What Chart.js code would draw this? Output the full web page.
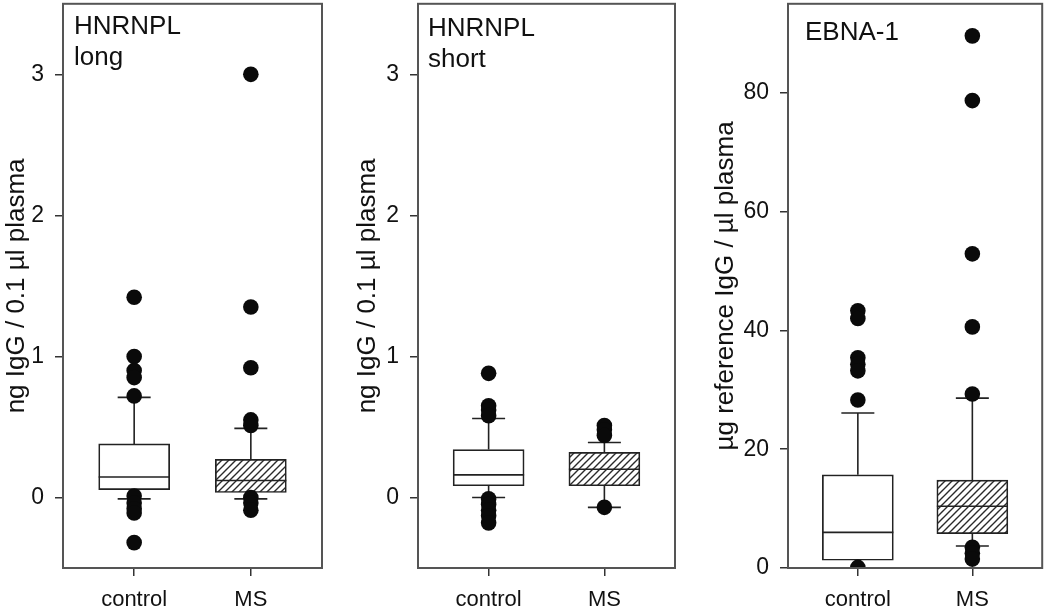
<!DOCTYPE html>
<html>
<head>
<meta charset="utf-8">
<script src="https://cdn.jsdelivr.net/npm/chart.js@4.4.0/dist/chart.umd.min.js"></script>
<style>
  html, body { margin: 0; padding: 0; background: #fff; }
  body { width: 1050px; height: 608px; position: relative; overflow: hidden; }
  .panel { position: absolute; top: -4px; height: 612px; }
</style>
</head>
<body>
<div class="panel" style="left:0;width:340px"><canvas id="chartLong"></canvas></div>
<div class="panel" style="left:345px;width:345px"><canvas id="chartShort"></canvas></div>
<div class="panel" style="left:695px;width:355px"><canvas id="chartEbna"></canvas></div>
<script>
const groups = ['control', 'MS'];
const groupPos = [1, 2];

// HNRNPL long
const longQ1 = [0.055, 0.035];
const longMedian = [0.145, 0.12];
const longQ3 = [0.38, 0.27];
const longLow = [-0.01, -0.01];
const longHigh = [0.71, 0.49];
const longOutControl = [1.42, 1.0, 0.9, 0.85, 0.72, 0.01, -0.04, -0.08, -0.11, -0.32];
const longOutMS = [3.0, 1.35, 0.92, 0.55, 0.51, 0.0, -0.04, -0.09];

// HNRNPL short
const shortQ1 = [0.083, 0.083];
const shortMedian = [0.16, 0.2];
const shortQ3 = [0.34, 0.32];
const shortLow = [0.0, -0.07];
const shortHigh = [0.56, 0.39];
const shortOutControl = [0.88, 0.65, 0.62, 0.58, -0.01, -0.05, -0.09, -0.13, -0.18];
const shortOutMS = [0.51, 0.48, 0.44, -0.07];

// EBNA-1
const ebnaQ1 = [1.3, 5.8];
const ebnaMedian = [6.0, 10.4];
const ebnaQ3 = [15.7, 14.8];
const ebnaLow = [0, 3.7];
const ebnaHigh = [26.1, 28.6];
const ebnaOutControl = [43.3, 42.0, 35.4, 34.3, 33.2, 28.3, 0.1];
const ebnaOutMS = [89.6, 78.7, 52.9, 40.6, 29.3, 3.5, 2.5, 1.5];

const ticksIgG = [0, 1, 2, 3];
const ticksEbna = [0, 20, 40, 60, 80];

const FONT = '"Liberation Sans", Arial, sans-serif';
const BOX_W = 71;
const CAP_W = 33;

function makeHatch() {
    const size = 7;
    const c = document.createElement('canvas');
    c.width = size; c.height = size;
    const g = c.getContext('2d');
    g.fillStyle = '#fff';
    g.fillRect(0, 0, size, size);
    g.strokeStyle = '#2a2a2a';
    g.lineWidth = 1.4;
    g.beginPath();
    g.moveTo(-1, size + 1); g.lineTo(size + 1, -1);
    g.moveTo(-1, 1); g.lineTo(1, -1);
    g.moveTo(size - 1, size + 1); g.lineTo(size + 1, size - 1);
    g.stroke();
    return g.createPattern(c, 'repeat');
}
const hatch = makeHatch();

// whiskers, caps, medians, frame and the panel label
function boxPartsPlugin(stats, label, labelX, labelY) {
    return {
        id: 'boxParts',
        afterDatasetDraw(chart, args) {
            if (args.index !== 0) return;
            const xs = chart.scales.x, ys = chart.scales.y, ctx = chart.ctx;
            ctx.save();
            ctx.strokeStyle = '#222';
            ctx.lineWidth = 1.6;
            ctx.beginPath();
            groupPos.forEach((p, i) => {
                const cx = xs.getPixelForValue(p);
                const yHigh = ys.getPixelForValue(stats.high[i]);
                const yLow = ys.getPixelForValue(stats.low[i]);
                const yQ3 = ys.getPixelForValue(stats.q3[i]);
                const yQ1 = ys.getPixelForValue(stats.q1[i]);
                const yMed = ys.getPixelForValue(stats.median[i]);
                ctx.moveTo(cx, yQ3); ctx.lineTo(cx, yHigh);
                ctx.moveTo(cx - CAP_W / 2, yHigh); ctx.lineTo(cx + CAP_W / 2, yHigh);
                ctx.moveTo(cx, yQ1); ctx.lineTo(cx, yLow);
                ctx.moveTo(cx - CAP_W / 2, yLow); ctx.lineTo(cx + CAP_W / 2, yLow);
                ctx.moveTo(cx - BOX_W / 2, yMed); ctx.lineTo(cx + BOX_W / 2, yMed);
            });
            ctx.stroke();
            ctx.restore();
        },
        afterDraw(chart) {
            const a = chart.chartArea, ctx = chart.ctx;
            ctx.save();
            ctx.strokeStyle = '#555';
            ctx.lineWidth = 2;
            ctx.strokeRect(a.left, a.top, a.right - a.left, a.bottom - a.top);
            ctx.fillStyle = '#111';
            ctx.font = '26px ' + FONT;
            ctx.textBaseline = 'alphabetic';
            label.forEach((line, i) => ctx.fillText(line, a.left + labelX, labelY + i * 31));
            ctx.restore();
        }
    };
}

function makeChart(id, cfg) {
    const points = [];
    cfg.outControl.forEach(v => points.push({ x: 1, y: v }));
    cfg.outMS.forEach(v => points.push({ x: 2, y: v }));

    new Chart(document.getElementById(id), {
        type: 'bar',
        data: {
            datasets: [
                {
                    type: 'bar',
                    data: groupPos.map((p, i) => ({ x: p, y: [cfg.stats.q1[i], cfg.stats.q3[i]] })),
                    backgroundColor: ['#fff', hatch],
                    borderColor: '#222',
                    borderWidth: 1.7,
                    borderSkipped: false,
                    barThickness: BOX_W,
                    order: 1
                },
                {
                    type: 'line',
                    data: points,
                    showLine: false,
                    pointRadius: 7.8,
                    pointBackgroundColor: '#0a0a0a',
                    pointBorderWidth: 0,
                    order: 0
                }
            ]
        },
        options: {
            responsive: true,
            maintainAspectRatio: false,
            animation: false,
            events: [],
            layout: { padding: { top: 0, right: cfg.padRight, left: 0, bottom: 0 } },
            plugins: { legend: { display: false }, tooltip: { enabled: false } },
            scales: {
                x: {
                    type: 'linear',
                    offset: false,
                    min: 0.39,
                    max: 2.61,
                    afterBuildTicks: s => { s.ticks = groupPos.map(v => ({ value: v })); },
                    afterFit: s => { s.height = 40; s.paddingLeft = 0; s.paddingRight = 0; },
                    border: { display: false },
                    grid: { offset: false, drawOnChartArea: false, drawTicks: true, tickLength: 8, color: '#333', lineWidth: 1.5 },
                    ticks: {
                        padding: 11,
                        color: '#111',
                        font: { family: FONT, size: 22 },
                        maxRotation: 0,
                        autoSkip: false,
                        callback: v => groups[v - 1]
                    }
                },
                y: {
                    type: 'linear',
                    min: cfg.yMin,
                    max: cfg.yMax,
                    afterBuildTicks: s => { s.ticks = cfg.ticks.map(v => ({ value: v })); },
                    afterFit: s => { s.width = cfg.yWidth; s.paddingTop = 0; s.paddingBottom = 0; },
                    border: { display: false },
                    grid: { drawOnChartArea: false, drawTicks: true, tickLength: 8, color: '#333', lineWidth: 1.5 },
                    ticks: {
                        padding: 11,
                        color: '#111',
                        font: { family: FONT, size: 23 },
                        callback: v => String(v)
                    },
                    title: {
                        display: true,
                        text: cfg.title,
                        color: '#111',
                        font: { family: FONT, size: 26 },
                        padding: { top: cfg.titlePad, bottom: 0 }
                    }
                }
            }
        },
        plugins: [boxPartsPlugin(cfg.stats, cfg.label, cfg.labelX, cfg.labelY)]
    });
}

makeChart('chartLong', {
    stats: { q1: longQ1, median: longMedian, q3: longQ3, low: longLow, high: longHigh },
    outControl: longOutControl, outMS: longOutMS,
    yMin: -0.5, yMax: 3.5, ticks: ticksIgG,
    title: 'ng IgG / 0.1 \u00b5l plasma',
    yWidth: 63, padRight: 18, titlePad: 1,
    label: ['HNRNPL', 'long'], labelX: 11, labelY: 38
});

makeChart('chartShort', {
    stats: { q1: shortQ1, median: shortMedian, q3: shortQ3, low: shortLow, high: shortHigh },
    outControl: shortOutControl, outMS: shortOutMS,
    yMin: -0.5, yMax: 3.5, ticks: ticksIgG,
    title: 'ng IgG / 0.1 \u00b5l plasma',
    yWidth: 73, padRight: 15, titlePad: 7,
    label: ['HNRNPL', 'short'], labelX: 10, labelY: 40
});

makeChart('chartEbna', {
    stats: { q1: ebnaQ1, median: ebnaMedian, q3: ebnaQ3, low: ebnaLow, high: ebnaHigh },
    outControl: ebnaOutControl, outMS: ebnaOutMS,
    yMin: 0, yMax: 95, ticks: ticksEbna,
    title: '\u00b5g reference IgG / \u00b5l plasma',
    yWidth: 93, padRight: 5, titlePad: 15,
    label: ['EBNA-1'], labelX: 17, labelY: 44
});
</script>
</body>
</html>
